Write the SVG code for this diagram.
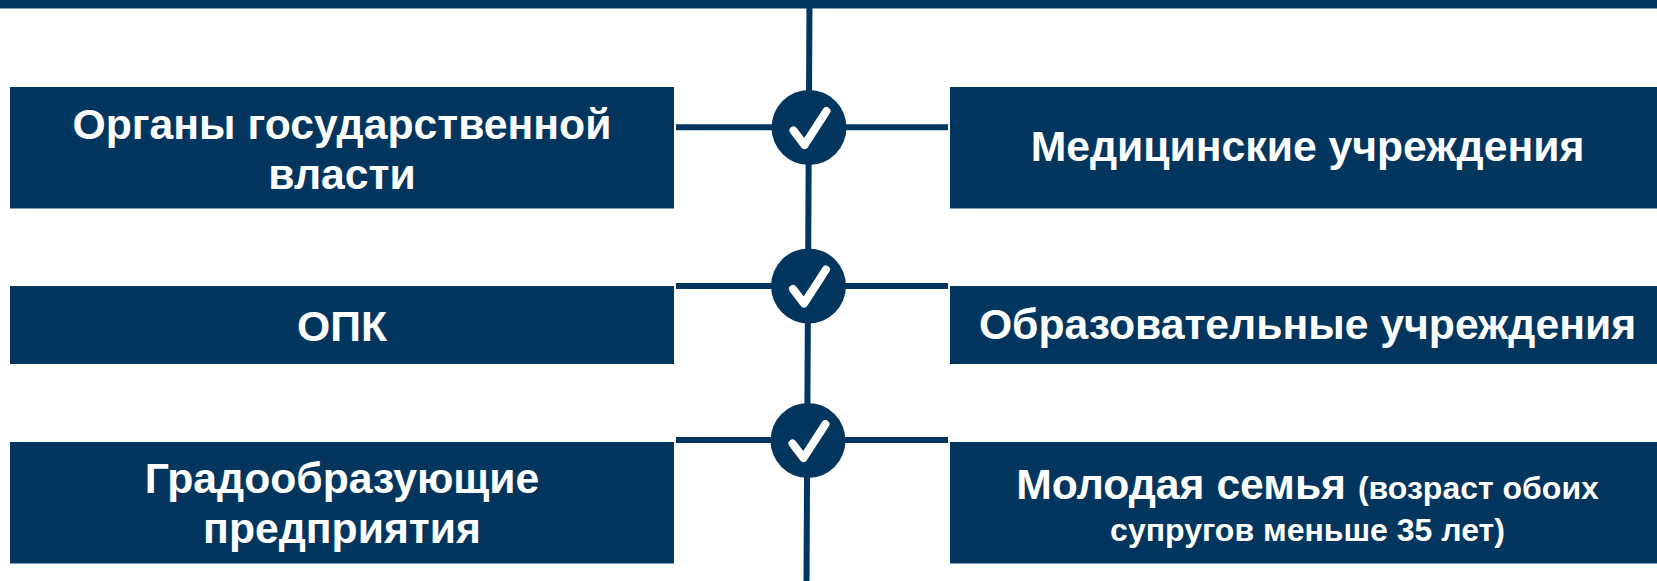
<svg xmlns="http://www.w3.org/2000/svg" width="1657" height="581" viewBox="0 0 1657 581">
  <style>
    .box { fill: #02365f; }
    .lbl { font-family: "Liberation Sans", Arial, sans-serif; font-weight: bold; font-size: 42.7px; fill: #ffffff; text-anchor: middle; }
    .sm { font-size: 32px; }
    .conn { stroke: #02365f; stroke-width: 6; fill: none; }
    .dot { fill: #02365f; }
    .tick { stroke: #ffffff; stroke-width: 8; stroke-linecap: round; stroke-linejoin: round; fill: none; }
  </style>
  <defs>
    <g id="check">
      <circle class="dot" cx="0" cy="0" r="37.5"/>
      <path class="tick" d="M -15.5 3 L -4.5 17.5 L 17.5 -16.5"/>
    </g>
  </defs>
  <rect width="1657" height="581" fill="#ffffff"/>

  <g id="connectors">
    <rect x="0" y="0" width="1657" height="8.5" class="box"/>
    <line class="conn" x1="809.5" y1="0" x2="806.5" y2="581"/>
    <line class="conn" x1="676" y1="127.3" x2="948" y2="127.3"/>
    <line class="conn" x1="676" y1="286" x2="948" y2="286"/>
    <line class="conn" x1="676" y1="440" x2="948" y2="440"/>
  </g>

  <g id="check1"><use href="#check" x="809" y="127.5"/></g>
  <g id="check2"><use href="#check" x="808.5" y="286"/></g>
  <g id="check3"><use href="#check" x="808" y="440.5"/></g>

  <g id="node-organy">
    <rect class="box" x="10" y="87" width="664" height="121.5"/>
    <text class="lbl" x="342" y="138.5">Органы государственной</text>
    <text class="lbl" x="342" y="188.5">власти</text>
  </g>
  <g id="node-med">
    <rect class="box" x="950" y="87" width="707" height="121.5"/>
    <text class="lbl" x="1307.5" y="161">Медицинские учреждения</text>
  </g>
  <g id="node-opk">
    <rect class="box" x="10" y="286" width="664" height="78"/>
    <text class="lbl" x="342" y="340.5">ОПК</text>
  </g>
  <g id="node-obr">
    <rect class="box" x="950" y="286" width="707" height="78"/>
    <text class="lbl" x="1307.5" y="338.5">Образовательные учреждения</text>
  </g>
  <g id="node-grad">
    <rect class="box" x="10" y="442" width="664" height="121.5"/>
    <text class="lbl" x="342" y="493">Градообразующие</text>
    <text class="lbl" x="342" y="543.3">предприятия</text>
  </g>
  <g id="node-family">
    <rect class="box" x="950" y="442" width="707" height="121.5"/>
    <text class="lbl" x="1307.5" y="499">Молодая семья <tspan class="sm">(возраст обоих</tspan></text>
    <text class="lbl sm" x="1307.5" y="540.5">супругов меньше 35 лет)</text>
  </g>
</svg>
